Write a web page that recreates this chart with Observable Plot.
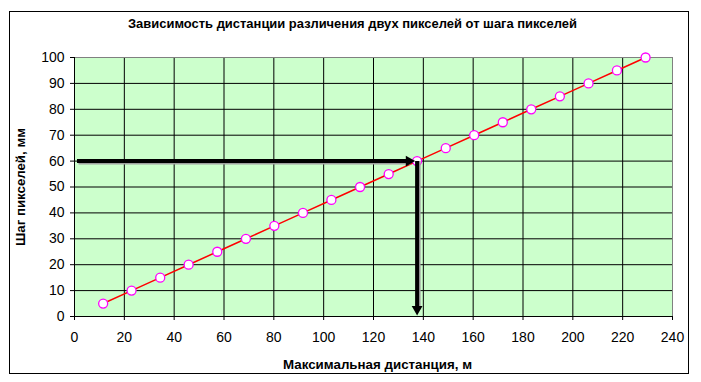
<!DOCTYPE html>
<html>
<head>
<meta charset="utf-8">
<script src="https://cdn.jsdelivr.net/npm/d3@7"></script>
<script src="https://cdn.jsdelivr.net/npm/@observablehq/plot@0.6"></script>
<style>
  html, body { margin: 0; padding: 0; background: #fff; }
  #wrap { position: relative; width: 701px; height: 382px; }
  #border { position: absolute; left: 9px; top: 11px; width: 680px; height: 363px; box-sizing: border-box; border: 1px solid #000; pointer-events: none; }
  #chart { position: absolute; left: 0; top: 0; }
</style>
</head>
<body>
<div id="wrap"><div id="chart"></div><div id="border"></div></div>
<script>
const title = "Зависимость дистанции различения двух пикселей от шага пикселей";
const xLabel = "Максимальная дистанция, м";
const yLabel = "Шаг пикселей, мм";
const xTicks = [0, 20, 40, 60, 80, 100, 120, 140, 160, 180, 200, 220, 240];
const yTicks = [0, 10, 20, 30, 40, 50, 60, 70, 80, 90, 100];
// series: maximum distance (m) vs pixel pitch (mm)
const distance = [11.5, 22.9, 34.4, 45.8, 57.3, 68.8, 80.2, 91.7, 103.1, 114.6, 126.1, 137.5, 149.0, 160.4, 171.9, 183.3, 194.8, 206.3, 217.7, 229.2];
const pitch = [5, 10, 15, 20, 25, 30, 35, 40, 45, 50, 55, 60, 65, 70, 75, 80, 85, 90, 95, 100];
// example reading (arrows)
const readPitch = 60;
const readDistance = 137.5;
const arrowStartX = 1;

const data = distance.map((d, i) => ({x: d, y: pitch[i]}));
const hArrow = [{x1: arrowStartX, y1: readPitch, x2: readDistance, y2: readPitch}];
const vArrow = [{x1: readDistance, y1: readPitch, x2: readDistance, y2: 0}];

const font = "'Liberation Sans', Arial, sans-serif";
const shaft = {x1: "x1", y1: "y1", x2: "x2", y2: "y2", headLength: 0, strokeWidth: 4, strokeLinecap: "butt"};

const chart = Plot.plot({
  width: 701,
  height: 382,
  marginLeft: 74,
  marginRight: 29,
  marginTop: 57,
  marginBottom: 66,
  style: {fontFamily: font, background: "transparent", overflow: "visible"},
  x: {domain: [0, 240]},
  y: {domain: [0, 100]},
  marks: [
    Plot.frame({fill: "#CCFFCC", stroke: null}),
    Plot.gridX(xTicks.filter(t => t > 0 && t < 240), {stroke: "#000", strokeOpacity: 1, strokeWidth: 1}),
    Plot.gridY(yTicks.filter(t => t > 0 && t < 100), {stroke: "#000", strokeOpacity: 1, strokeWidth: 1}),
    Plot.ruleX([240], {stroke: "#808080"}),
    Plot.ruleY([100], {stroke: "#808080"}),
    Plot.ruleX([0], {stroke: "#000"}),
    Plot.ruleY([0], {stroke: "#000"}),
    Plot.axisX({ticks: xTicks, tickSize: 4, tickPadding: 12, fontSize: 14, label: null, stroke: "#000", color: "#000"}),
    Plot.axisY({ticks: yTicks, tickSize: 4, tickPadding: 6, fontSize: 14, label: null, stroke: "#000", color: "#000"}),
    Plot.line(data, {x: "x", y: "y", stroke: "#FF0000", strokeWidth: 1.5}),
    Plot.dot(data, {x: "x", y: "y", r: 4.5, stroke: "#FF00FF", fill: "#fff", strokeWidth: 1.3}),
    // arrow shadows
    Plot.arrow(hArrow, {...shaft, stroke: "#a0a0a0", insetEnd: 8, dx: 1.5, dy: 1.5}),
    Plot.arrow(vArrow, {...shaft, stroke: "#a0a0a0", insetEnd: 7, dx: 1.5, dy: 0}),
    // arrow shafts
    Plot.arrow(hArrow, {...shaft, stroke: "#000", insetEnd: 8}),
    Plot.arrow(vArrow, {...shaft, stroke: "#000", insetEnd: 7}),
    // arrow heads
    Plot.dot(hArrow, {x: "x2", y: "y2", symbol: "triangle", r: 4, fill: "#000", stroke: null, rotate: 90, dx: -8.2}),
    Plot.dot(vArrow, {x: "x2", y: "y2", symbol: "triangle", r: 4, fill: "#000", stroke: null, rotate: 180, dy: -7.3}),
    // texts
    Plot.text([title], {text: d => d, frameAnchor: "top", textAnchor: "middle", lineAnchor: "bottom", dx: -21, dy: -30, fontSize: 13, fontWeight: "bold", fill: "#000"}),
    Plot.text([xLabel], {text: d => d, frameAnchor: "bottom", textAnchor: "middle", lineAnchor: "bottom", dx: 4, dy: 52, fontSize: 13, fontWeight: "bold", fill: "#000"}),
    Plot.text([yLabel], {text: d => d, frameAnchor: "left", textAnchor: "middle", lineAnchor: "middle", rotate: -90, dx: -54, dy: 0, fontSize: 13, fontWeight: "bold", fill: "#000"})
  ]
});
// fit label widths to the reference (Excel's condensed rendering)
const fit = {[title]: 449, [xLabel]: 189, [yLabel]: 118};
d3.select(chart).selectAll("text").each(function () {
  const t = this.textContent;
  if (fit[t]) {
    d3.select(this).attr("textLength", fit[t]).attr("lengthAdjust", "spacingAndGlyphs");
  }
});
document.getElementById("chart").appendChild(chart);
</script>
</body>
</html>
